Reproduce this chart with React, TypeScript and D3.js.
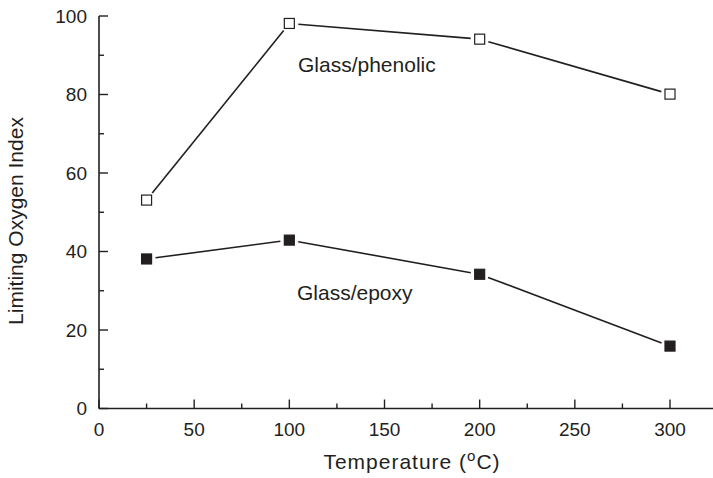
import * as d3 from "d3";

const temps = [25, 100, 200, 300];
const phenolic = [53.1, 98.1, 94.1, 80.1];
const epoxy = [38.1, 42.9, 34.2, 15.9];
const xTicks = [0, 50, 100, 150, 200, 250, 300];
const xMinor = [25, 75, 125, 175, 225, 275];
const yTicks = [0, 20, 40, 60, 80, 100];
const yMinor = [10, 30, 50, 70, 90];

const App: React.FC = () => {
    const width = 713;
    const height = 478;
    const ink = "#231f20";
    const font = "'Liberation Sans', Arial, Helvetica, sans-serif";
    const x = d3.scaleLinear([0, 300], [99, 670]);
    const y = d3.scaleLinear([0, 100], [408.5, 16]);
    const axisY = y(0);
    const axisX = x(0);

    // line segments stop short of the markers, as in the original
    const gap = 9;
    const segments = (vals: number[]) => {
        const pts = temps.map((t, i) => [x(t), y(vals[i])] as [number, number]);
        const out: [number, number][][] = [];
        for (let i = 0; i < pts.length - 1; i++) {
            const [x0, y0] = pts[i];
            const [x1, y1] = pts[i + 1];
            const len = Math.hypot(x1 - x0, y1 - y0);
            const ux = (x1 - x0) / len;
            const uy = (y1 - y0) / len;
            out.push([[x0 + ux * gap, y0 + uy * gap], [x1 - ux * gap, y1 - uy * gap]]);
        }
        return out;
    };
    const line = d3.line();
    const size = 10;

    return (
        <svg width={width} height={height} style={{ position: "absolute", left: 0, top: 0, background: "white" }}
            fontFamily={font} fill={ink}>
            {/* axes */}
            <line x1={axisX} x2={713} y1={axisY} y2={axisY} stroke={ink} strokeWidth={1.6} />
            <line x1={axisX} x2={axisX} y1={y(100)} y2={axisY} stroke={ink} strokeWidth={1.6} />
            {xTicks.map(t => (
                <g key={"x" + t}>
                    <line x1={x(t)} x2={x(t)} y1={axisY} y2={axisY - 9} stroke={ink} strokeWidth={1.4} />
                    <text x={x(t)} y={436} fontSize={19} textAnchor="middle">{t}</text>
                </g>
            ))}
            {xMinor.map(t => (
                <line key={"xm" + t} x1={x(t)} x2={x(t)} y1={axisY} y2={axisY - 5} stroke={ink} strokeWidth={1.4} />
            ))}
            {yTicks.map(t => (
                <g key={"y" + t}>
                    <line x1={axisX} x2={axisX + 9} y1={y(t)} y2={y(t)} stroke={ink} strokeWidth={1.4} />
                    <text x={87} y={y(t)} dy="0.35em" fontSize={19} textAnchor="end">{t}</text>
                </g>
            ))}
            {yMinor.map(t => (
                <line key={"ym" + t} x1={axisX} x2={axisX + 5} y1={y(t)} y2={y(t)} stroke={ink} strokeWidth={1.4} />
            ))}
            <text x={412} y={469} fontSize={21} letterSpacing={1} textAnchor="middle">
                Temperature (<tspan dy={-8} fontSize={15}>o</tspan><tspan dy={8}>C)</tspan>
            </text>
            <text transform="translate(23,221) rotate(-90)" fontSize={21} textAnchor="middle">Limiting Oxygen Index</text>

            {/* series */}
            {segments(phenolic).map((s, i) => (
                <path key={"pl" + i} d={line(s) ?? undefined} fill="none" stroke={ink} strokeWidth={1.6} />
            ))}
            {segments(epoxy).map((s, i) => (
                <path key={"el" + i} d={line(s) ?? undefined} fill="none" stroke={ink} strokeWidth={1.6} />
            ))}
            {temps.map((t, i) => (
                <rect key={"pm" + i} x={x(t) - size / 2} y={y(phenolic[i]) - size / 2} width={size} height={size}
                    fill="white" stroke={ink} strokeWidth={1.2} />
            ))}
            {temps.map((t, i) => (
                <rect key={"em" + i} x={x(t) - size / 2} y={y(epoxy[i]) - size / 2} width={size} height={size}
                    fill={ink} stroke={ink} strokeWidth={1.2} />
            ))}
            <text x={298} y={72} fontSize={21}>Glass/phenolic</text>
            <text x={297} y={300} fontSize={21}>Glass/epoxy</text>
        </svg>
    );
};

export default App;
